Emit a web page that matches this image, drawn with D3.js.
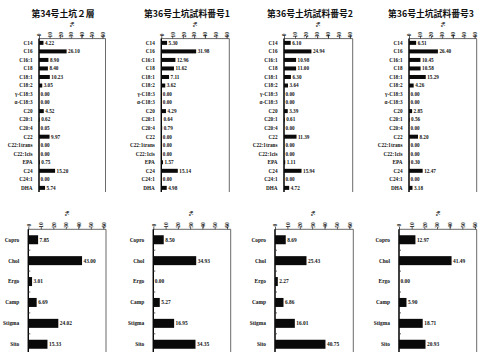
<!DOCTYPE html>
<html>
<head>
<meta charset="utf-8">
<script src="https://cdn.jsdelivr.net/npm/d3@7"></script>
<style>
  html, body { margin: 0; padding: 0; background: #fff; }
  svg { display: block; }
  .title { font-family: "Noto Sans CJK JP", sans-serif; font-weight: 700; font-size: 8.8px; fill: #111; }
  .cat, .val, .tick text, .unit { font-family: "Liberation Serif", "DejaVu Serif", serif; font-weight: 700; fill: #111; }
</style>
</head>
<body>
<svg id="chart" width="483" height="352"></svg>
<script>
// Fatty acid composition (%)
const fattyAcids = ["C14", "C16", "C16:1", "C18", "C18:1", "C18:2", "γ-C18:3", "α-C18:3",
  "C20", "C20:1", "C20:4", "C22", "C22:1trans", "C22:1cis", "EPA", "C24", "C24:1", "DHA"];
const fa34_2 = [4.22, 26.10, 8.90, 8.40, 10.23, 3.05, 0.00, 0.00, 4.52, 0.62, 0.05, 9.97, 0.00, 0.00, 0.75, 15.20, 0.00, 5.74];
const fa36_1 = [5.30, 31.98, 12.96, 11.62, 7.11, 3.62, 0.00, 0.00, 4.29, 0.64, 0.79, 0.00, 0.00, 0.00, 1.57, 15.14, 0.00, 4.98];
const fa36_2 = [6.10, 24.94, 10.98, 11.00, 6.30, 3.64, 0.00, 0.00, 3.39, 0.61, 0.00, 11.39, 0.00, 0.00, 1.11, 15.94, 0.00, 4.72];
const fa36_3 = [6.51, 26.40, 10.45, 10.58, 15.29, 4.26, 0.00, 0.00, 2.85, 0.56, 0.00, 8.20, 0.00, 0.00, 0.30, 12.47, 0.00, 3.18];

// Sterol composition (%)
const sterols = ["Copro", "Chol", "Ergo", "Camp", "Stigma", "Sito"];
const st34_2 = [7.85, 43.00, 3.01, 6.69, 24.02, 15.33];
const st36_1 = [8.50, 34.93, 0.00, 5.27, 16.95, 34.35];
const st36_2 = [8.69, 25.43, 2.27, 6.86, 16.01, 40.75];
const st36_3 = [12.97, 41.49, 0.00, 5.90, 18.71, 20.93];

const titles = ["第34号土坑２層", "第36号土坑試料番号1", "第36号土坑試料番号2", "第36号土坑試料番号3"];
const tickValues = [0, 10, 20, 30, 40, 50, 60];
const unitLabel = "%";

const svg = d3.select("#chart");

// Horizontal bar panel with a top percentage axis
function panel(cfg) {
  const g = svg.append("g");
  const x = d3.scaleLinear().domain([0, 60]).range([cfg.x0, cfg.x60]);
  const y = d3.scaleBand().domain(cfg.cats).range([cfg.top, cfg.top + cfg.step * cfg.cats.length]);
  const rows = cfg.cats.map((c, i) => ({ c, v: cfg.vals[i] }));

  // frame
  g.append("path")
    .attr("d", `M${cfg.x0},${cfg.bottom}V${cfg.top}H${cfg.right}V${cfg.bottom}`)
    .attr("fill", "none").attr("stroke", "#444").attr("stroke-width", 0.8);
  g.append("line")
    .attr("x1", cfg.x0).attr("x2", cfg.x0).attr("y1", cfg.top).attr("y2", cfg.bottom)
    .attr("stroke", "#000").attr("stroke-width", 1.3);

  // top axis
  const ax = g.append("g").attr("class", "tick").attr("transform", `translate(0,${cfg.top})`)
    .call(d3.axisTop(x).tickValues(tickValues).tickSize(2.5).tickPadding(0).tickFormat(d3.format("d")));
  ax.select(".domain").remove();
  ax.selectAll("line").attr("stroke", "#333").attr("stroke-width", 0.8);
  ax.selectAll("text")
    .attr("font-size", cfg.tickFont)
    .attr("transform", `translate(0,${-cfg.tickGap}) rotate(-90)`)
    .attr("x", 0).attr("y", 0).attr("dy", "0.35em")
    .attr("text-anchor", "middle");
  g.append("text").attr("class", "unit")
    .attr("font-size", cfg.tickFont + 0.5)
    .attr("transform", `translate(${x(30) + 1},${cfg.unitY}) rotate(-90)`)
    .attr("text-anchor", "middle").attr("dy", "0.35em")
    .text(unitLabel);

  // small ticks between rows on the left axis
  if (cfg.rowTicks) {
    g.selectAll(".rt").data(cfg.cats.slice(1)).join("line")
      .attr("x1", cfg.x0).attr("x2", cfg.x0 + 2)
      .attr("y1", d => y(d)).attr("y2", d => y(d))
      .attr("stroke", "#333").attr("stroke-width", 0.8);
  }

  // bars
  g.selectAll(".bar").data(rows).join("rect")
    .attr("x", cfg.x0)
    .attr("y", d => y(d.c) + (y.bandwidth() - cfg.barH) / 2)
    .attr("width", d => x(d.v) - cfg.x0)
    .attr("height", cfg.barH)
    .attr("fill", "#0a0a0a");

  // value labels
  g.selectAll(".val").data(rows).join("text").attr("class", "val")
    .attr("x", d => x(d.v) + 1.5)
    .attr("y", d => y(d.c) + y.bandwidth() / 2)
    .attr("dy", "0.35em")
    .attr("font-size", cfg.font)
    .text(d => d.v.toFixed(2));

  // category labels
  g.selectAll(".cat").data(cfg.cats).join("text").attr("class", "cat")
    .attr("x", cfg.x0 - cfg.catGap)
    .attr("y", d => y(d) + y.bandwidth() / 2)
    .attr("dy", "0.35em")
    .attr("text-anchor", "end")
    .attr("font-size", cfg.font)
    .text(d => d);

  if (cfg.title) {
    g.append("text").attr("class", "title")
      .attr("x", cfg.titleX).attr("y", 17)
      .attr("text-anchor", "middle")
      .text(cfg.title);
  }
}

const faPanels = [
  { vals: fa34_2, x0: 39, x60: 102.5, right: 105.5, titleX: 63 },
  { vals: fa36_1, x0: 161.3, x60: 226.7, right: 229.3, titleX: 187 },
  { vals: fa36_2, x0: 284, x60: 350, right: 352.7, titleX: 310 },
  { vals: fa36_3, x0: 409, x60: 474.7, right: 476.7, titleX: 431 }
];
faPanels.forEach((p, i) => panel(Object.assign({
  cats: fattyAcids, top: 38.6, step: 8.53, bottom: 192, barH: 4,
  font: 5.2, tickFont: 5.6, tickGap: 3.8, unitY: 24.5, catGap: 6.5, rowTicks: false,
  title: titles[i]
}, p)));

const stPanels = [
  { vals: st34_2, x0: 28.3, x60: 103.3, right: 106 },
  { vals: st36_1, x0: 153.3, x60: 227, right: 230.7 },
  { vals: st36_2, x0: 275, x60: 349.3, right: 353.3 },
  { vals: st36_3, x0: 399, x60: 475, right: 476.7 }
];
stPanels.forEach(p => panel(Object.assign({
  cats: sterols, top: 229.3, step: 20.9, bottom: 360, barH: 9,
  font: 5.4, tickFont: 5.6, tickGap: 4.3, unitY: 213.5, catGap: 9, rowTicks: true,
  title: null
}, p)));
</script>
</body>
</html>
